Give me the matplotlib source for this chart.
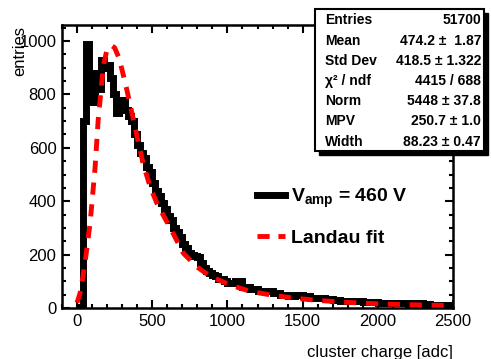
import numpy as np
import matplotlib
matplotlib.use("Agg")
import matplotlib.pyplot as plt
from matplotlib.patches import Rectangle
from matplotlib.ticker import MultipleLocator

plt.rcParams['font.family'] = ['Liberation Sans', 'DejaVu Sans']
plt.rcParams['mathtext.fontset'] = 'custom'
plt.rcParams['mathtext.rm'] = 'Liberation Sans'
plt.rcParams['mathtext.bf'] = 'Liberation Sans:bold'
plt.rcParams['mathtext.it'] = 'Liberation Sans:italic'

# ---------------- data ----------------
hist_edges = list(range(0, 1001, 20)) + list(range(1050, 2501, 50))
hist_counts = [
    0, 5, 700, 990, 880, 770, 880, 820, 930, 900,          # 0-200
    910, 860, 800, 730, 760, 780, 740, 720, 700, 650,      # 200-400
    610, 580, 560, 530, 510, 470, 440, 420, 395, 370,      # 400-600
    345, 330, 300, 285, 265, 240, 225, 205, 200, 195,      # 600-800
    190, 170, 150, 140, 130, 125, 120, 110, 108, 100,      # 800-1000
    95, 100, 80, 72, 65, 62, 55, 50, 46, 47,               # 1000-1500
    44, 38, 36, 32, 30, 27, 28, 27, 24, 22,                # 1500-2000
    20, 19, 18, 17, 16, 17, 15, 13, 12, 12,                # 2000-2500
]

fit_x = [0, 20, 40, 60, 87, 100, 120, 140, 167, 180, 200, 230, 250, 280,
         307, 330, 367, 400, 440, 487, 533, 600, 620, 707, 800, 887, 1020,
         1153, 1287, 1440, 1573, 1733, 1873, 2020, 2173, 2320, 2500]
fit_y = [20, 55, 119, 200, 319, 400, 526, 700, 860, 920, 970, 983, 975, 935,
         874, 820, 726, 640, 540, 452, 390, 320, 300, 205, 153, 118, 86,
         62, 49, 37, 30, 23, 19, 15, 13, 11, 9]

legend_labels = [r"$\mathbf{V}_{\mathbf{amp}}$ = 460 V", "Landau fit"]
stats_names = ["Entries", "Mean", "Std Dev", "\u03c7\u00b2 / ndf", "Norm", "MPV", "Width"]
stats_values = ["51700", "474.2 \u00b1  1.87", "418.5 \u00b1 1.322", "4415 / 688",
                "5448 \u00b1 37.8", "250.7 \u00b1 1.0", "88.23 \u00b1 0.47"]

# ---------------- figure ----------------
W, H = 491, 359
fig = plt.figure(figsize=(W / 100, H / 100), dpi=100)
L, R, T, B = 62, 453, 25, 308
ax = fig.add_axes([L / W, 1 - B / H, (R - L) / W, (B - T) / H])

ax.stairs(hist_counts, hist_edges, color='black', lw=5, zorder=3)
fit_line, = ax.plot(fit_x, fit_y, color='#ff0000', lw=3.5, dashes=(2.5, 2.0),
                    zorder=4)

ax.set_xlim(-100, 2500)
ax.set_ylim(0, 1060)
ax.xaxis.set_major_locator(MultipleLocator(500))
ax.xaxis.set_minor_locator(MultipleLocator(100))
ax.yaxis.set_major_locator(MultipleLocator(200))
ax.yaxis.set_minor_locator(MultipleLocator(50))
ax.tick_params(which='both', direction='in', top=True, right=True,
               width=1.5, labelsize=12, pad=4)
ax.tick_params(which='major', length=6)
ax.tick_params(which='minor', length=3)
for sp in ax.spines.values():
    sp.set_linewidth(1.8)

ax.set_xlabel("cluster charge [adc]", fontsize=12, loc='right', labelpad=12)
ax.set_ylabel("entries", fontsize=12, loc='top')
ax.yaxis.set_label_coords((27 - L) / (R - L), 0.995)

hist_handle = plt.Line2D([], [], color='black', lw=5)
leg_fit = plt.Line2D([], [], color='#ff0000', lw=3.5, dashes=(2.5, 1.8))
leg = ax.legend([hist_handle, leg_fit], legend_labels, loc='upper left',
                bbox_to_anchor=(257 / W, 1 - 187 / H), bbox_transform=fig.transFigure,
                frameon=False, prop={'size': 14, 'weight': 'bold'},
                handlelength=1.45, handletextpad=0.3, labelspacing=1.0,
                borderpad=0, borderaxespad=0)

# ---------------- stats box ----------------
bx0, bx1, by0, by1 = 315, 484, 9, 151
sh = 4
fig.add_artist(Rectangle(((bx0 + sh) / W, 1 - (by1 + sh) / H), (bx1 - bx0) / W,
                         (by1 - by0) / H, transform=fig.transFigure,
                         facecolor='black', edgecolor='black', zorder=10))
fig.add_artist(Rectangle((bx0 / W, 1 - by1 / H), (bx1 - bx0) / W, (by1 - by0) / H,
                         transform=fig.transFigure, facecolor='white',
                         edgecolor='black', lw=1.5, zorder=11))
row_y = [20, 41, 61, 81, 101, 121, 142]
for name, val, yy in zip(stats_names, stats_values, row_y):
    fig.text(325 / W, 1 - yy / H, name, fontsize=10, fontweight='bold',
             ha='left', va='center', zorder=12)
    fig.text(481 / W, 1 - yy / H, val, fontsize=10, fontweight='bold',
             ha='right', va='center', zorder=12)

fig.savefig("out.png", dpi=100)
